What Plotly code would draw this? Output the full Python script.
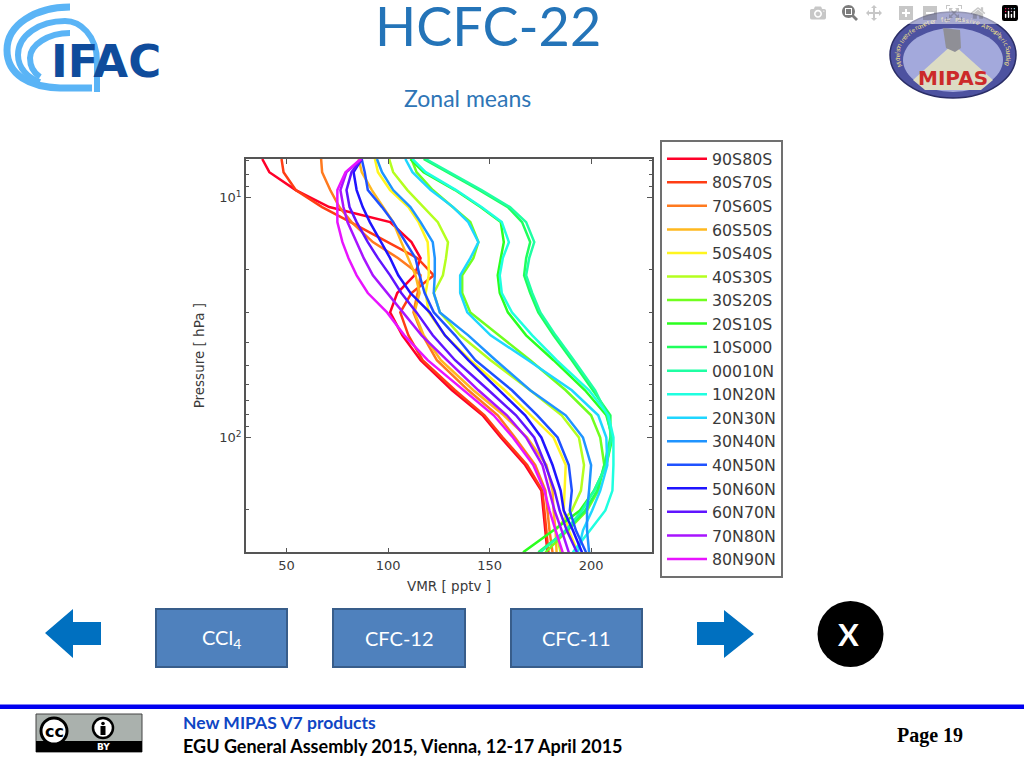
"""
HCFC-22 zonal means slide
"""
import math
import plotly.graph_objects as go

# pressure levels [hPa]
pressure = [6.92, 7.85, 9.32, 10.97, 12.67, 15.35, 17.9, 21.1, 25.0, 30.1,
            37.5, 47.6, 63.5, 80.7, 99.8, 130, 166, 201, 243, 300]

bands = ['90S80S', '80S70S', '70S60S', '60S50S', '50S40S', '40S30S', '30S20S', '20S10S', '10S000',
         '00010N', '10N20N', '20N30N', '30N40N', '40N50N', '50N60N', '60N70N', '70N80N', '80N90N']

band_colors = ['#ff0029', '#ff3d14', '#ff7a1f', '#ffb81f', '#fff51f', '#b4ff1f', '#70ff1f', '#2bff1f', '#1fff5c',
               '#1fffa3', '#1fffe0', '#1fd6ff', '#1f94ff', '#1f52ff', '#1f14ff', '#6014ff', '#a814ff', '#e814ff']

# VMR [pptv] per latitude band, same order as pressure
vmr_90s80s = [38, 41.5, 54.5, 71, 101, 111.5, 116, 113, 104.5, 101, 107, 116, 131.5, 146.5, 155.5, 167.5, 175.5, 176.5, 177.5, 178.5]
vmr_80s70s = [47.5, 48.5, 54.5, 67.5, 81.5, 99.5, 114.5, 122.5, 111.5, 106, 110, 117, 133, 147.5, 156.5, 168.5, 176, 177, 178, 179]
vmr_70s60s = [67, 67.5, 71.5, 76, 82, 92.5, 105, 116, 114.5, 112.5, 117, 124, 139.5, 154, 162.5, 172.5, 177.5, 178.5, 179.5, 181]
vmr_60s50s = [85.5, 87, 92, 97.5, 102.5, 106.5, 110, 113.5, 115.5, 113, 117.5, 126, 142, 157, 168.5, 178, 181, 181.5, 182.5, 183]
vmr_50s40s = [93.5, 95, 101, 110, 115, 119.5, 120, 120, 118.5, 120, 128, 140.5, 157.5, 170, 181.5, 187.5, 187, 186.5, 189, 193.5]
vmr_40s30s = [100.5, 102.5, 109.5, 117.5, 124.5, 129.5, 128.5, 127, 122.5, 125.5, 135.5, 150.5, 170, 185.5, 194, 196.5, 195, 190.5, 182.5, 185]
vmr_30s20s = [111.5, 114, 122, 132, 140.5, 144.5, 142, 136.5, 136.5, 140.5, 154.5, 170, 187.5, 200, 204.5, 206.5, 203.5, 198, 188.5, 177.5]
vmr_20s10s = [111, 117.5, 133, 145.5, 155.5, 157, 155.5, 154, 155, 159, 168, 181.5, 197, 207.5, 210.5, 207.5, 201.5, 194.5, 181.5, 166.5]
vmr_10s000 = [117.5, 129, 145, 159, 166, 170, 168, 167, 170, 174, 181.5, 190.5, 201, 209.5, 209.5, 206.5, 203, 197, 188, 174]
vmr_00010n = [118.5, 130, 146, 160, 168, 172, 169.5, 168, 171, 175, 182.5, 191.5, 202, 208, 210, 207.5, 201.5, 195.5, 187.5, 175]
vmr_10n20n = [112, 118.5, 133.5, 146, 156, 159.5, 156.5, 155, 156, 161, 171, 183, 199, 208.5, 211, 211, 210.5, 207, 199.5, 191]
vmr_20n30n = [108.5, 112, 121, 132, 139.5, 144.5, 140.5, 135.5, 135.5, 139, 150.5, 169, 190.5, 203.5, 207.5, 208, 204.5, 200.5, 196, 193.5]
vmr_30n40n = [94.5, 97, 102.5, 111, 116, 122, 123, 123, 122.5, 125.5, 139.5, 153, 170, 187.5, 196, 200, 199, 198, 198, 199]
vmr_40n50n = [87, 88.5, 90, 97, 102.5, 108.5, 113.5, 115.5, 118, 122.5, 133, 143, 161, 173.5, 183.5, 189, 190.5, 189.5, 192.5, 197.5]
vmr_50n60n = [87, 83, 84.5, 87.5, 91, 96.5, 101, 105, 111, 120.5, 128, 139.5, 154.5, 167.5, 175.5, 181, 185, 186.5, 191, 195.5]
vmr_60n70n = [87, 82, 79.5, 81, 84.5, 90, 95, 101, 106.5, 114, 122, 133, 149.5, 163, 172, 177.5, 182, 184.5, 188, 193]
vmr_70n80n = [87, 79.5, 76.5, 78, 80, 84.5, 88, 92.5, 99.5, 107.5, 116.5, 129, 144.5, 158.5, 168, 176, 179.5, 182, 185.5, 189]
vmr_80n90n = [86.5, 79, 75, 75, 75, 77.5, 80.5, 84.5, 90, 99.5, 108, 119.5, 137, 152, 161.5, 171.5, 177, 179.5, 182.5, 186]

all_vmr = [vmr_90s80s, vmr_80s70s, vmr_70s60s, vmr_60s50s, vmr_50s40s, vmr_40s30s, vmr_30s20s, vmr_20s10s, vmr_10s000,
           vmr_00010n, vmr_10n20n, vmr_20n30n, vmr_30n40n, vmr_40n50n, vmr_50n60n, vmr_60n70n, vmr_70n80n, vmr_80n90n]

x_ticks = [50, 100, 150, 200]
y_ticks = [10, 100]
y_tick_labels = ['10<sup>1</sup>', '10<sup>2</sup>']
y_minor = [7, 8, 9, 20, 30, 40, 50, 60, 70, 80, 90, 200, 300]

W, H = 1024, 768
SLIDE_FONT = 'Lato'
PLOT_FONT = 'DejaVu Sans'
TEXT_GREY = '#3a3a3a'


def fx(x):
    return x / W


def fy(y):
    return 1 - y / H


def path(points):
    """Turn pixel commands like ('M', 10, 20) into a paper-space svg path"""
    parts = []
    for cmd in points:
        coords = cmd[1:]
        pairs = []
        for i in range(0, len(coords), 2):
            pairs.append(f'{fx(coords[i]):.5f},{fy(coords[i + 1]):.5f}')
        parts.append(cmd[0] + ' '.join(pairs))
    return ' '.join(parts)


def rect(x0, y0, x1, y1, fill, line=None, width=0):
    return dict(type='rect', xref='paper', yref='paper', x0=fx(x0), x1=fx(x1), y0=fy(y0), y1=fy(y1),
                fillcolor=fill, line=dict(color=line or fill, width=width))


def ellipse(cx, cy, rx, ry, fill, line=None, width=0):
    return dict(type='circle', xref='paper', yref='paper', x0=fx(cx - rx), x1=fx(cx + rx),
                y0=fy(cy + ry), y1=fy(cy - ry), fillcolor=fill, line=dict(color=line or fill, width=width))


def poly(points, fill):
    cmds = [('M', *points[0])] + [('L', *p) for p in points[1:]] + [('Z',)]
    return dict(type='path', xref='paper', yref='paper', path=path(cmds), fillcolor=fill,
                line=dict(color=fill, width=0))


def stroke(cmds, color, width):
    return dict(type='path', xref='paper', yref='paper', path=path(cmds), line=dict(color=color, width=width))


def label(x, y, text, size, color, family=SLIDE_FONT, anchor='left', bold=False, angle=0):
    return dict(xref='paper', yref='paper', x=fx(x), y=fy(y), text=f'<b>{text}</b>' if bold else text,
                showarrow=False, xanchor=anchor, yanchor='middle', textangle=angle,
                font=dict(size=size, color=color, family=family))


fig = go.Figure()
for name, color, values in zip(bands, band_colors, all_vmr):
    fig.add_trace(go.Scatter(x=values, y=pressure, mode='lines', name=name, line=dict(color=color, width=2.5)))

axis_line = dict(showline=True, linecolor='#555555', linewidth=1.5, mirror='ticks', showgrid=False, zeroline=False,
                 ticks='inside', tickcolor='#555555', tickfont=dict(size=13, color=TEXT_GREY, family=PLOT_FONT))

fig.update_xaxes(range=[30, 230], domain=[fx(246), fx(652)], tickvals=x_ticks, ticklen=5,
                 title=dict(text='VMR [ pptv ]', font=dict(size=13.5, color=TEXT_GREY, family=PLOT_FONT), standoff=10),
                 **axis_line)
fig.update_yaxes(type='log', range=[math.log10(300), math.log10(6.92)], domain=[fy(552.3), fy(159)],
                 tickvals=y_ticks, ticktext=y_tick_labels, ticklen=5,
                 minor=dict(ticks='inside', ticklen=3, tickcolor='#555555', tickvals=y_minor, showgrid=False),
                 title=dict(text='Pressure [ hPa ]', font=dict(size=13.5, color=TEXT_GREY, family=PLOT_FONT), standoff=12),
                 **axis_line)

shapes = [
    # footer rule
    rect(0, 704.5, W, 709, '#0000f0'),
    # navigation buttons
    rect(156, 609, 287, 667, '#4f81bd', '#385d8a', 2),
    rect(333, 609, 465, 667, '#4f81bd', '#385d8a', 2),
    rect(511, 609, 642, 667, '#4f81bd', '#385d8a', 2),
    poly([(45, 633), (73, 609), (73, 622), (101, 622), (101, 645), (73, 645), (73, 658)], '#0070c0'),
    poly([(697, 622), (724, 622), (724, 610), (754, 634), (724, 658), (724, 645), (697, 645)], '#0070c0'),
    ellipse(850.5, 634, 33, 33, '#000000'),
    # IFAC logo arcs
    stroke([('M', 70, 7), ('C', 35, 7, 7, 25, 7, 50), ('C', 7, 75, 30, 87, 60, 88), ('L', 92, 88)], '#5ab4f6', 7),
    stroke([('M', 97, 92), ('L', 97, 62), ('C', 97, 35, 80, 21, 65, 21), ('C', 40, 21, 18, 35, 18, 55),
            ('C', 18, 68, 28, 78, 40, 82)], '#5ab4f6', 6),
    stroke([('M', 70, 33), ('C', 48, 33, 30, 45, 30, 58), ('C', 30, 68, 34, 73, 40, 77)], '#5ab4f6', 6),
    # MIPAS logo
    ellipse(953, 55, 63, 43, '#4d52a0', '#2a2d66', 1.5),
    ellipse(953, 60, 50, 32, '#a3a9dc'),
    poly([(953, 44), (913, 80), (925, 90), (981, 90), (993, 80)], '#dcdcc4'),
    poly([(943, 28), (960, 30), (961, 48), (955, 52), (946, 48)], '#8f8f96'),
    # CC BY badge
    rect(36, 714, 142, 752, '#aab1ad', '#444444', 1),
    rect(36, 741, 142, 752, '#000000'),
    ellipse(54, 731, 13, 13, '#ffffff', '#000000', 3),
    ellipse(103, 728, 10, 10, '#ffffff', '#000000', 2.5),
    ellipse(103, 723.5, 1.8, 1.8, '#000000'),
    rect(100.5, 726, 105.5, 735, '#000000'),
]

annotations = [
    label(487.5, 25, 'HCFC-22', 54, '#2474b8', anchor='center'),
    label(467, 98, 'Zonal means', 23, '#2e75b6', anchor='center'),
    label(221, 638, 'CCl<sub>4</sub>', 20, '#ffffff', anchor='center'),
    label(399, 638, 'CFC-12', 20, '#ffffff', anchor='center'),
    label(576.5, 638, 'CFC-11', 20, '#ffffff', anchor='center'),
    label(848, 634, 'X', 31, '#ffffff', anchor='center', bold=True),
    label(181, 722, 'New MIPAS V7 products', 17.5, '#0f46c4', bold=True),
    label(181, 746, 'EGU General Assembly 2015, Vienna, 12-17 April 2015', 18, '#000000', bold=True),
    label(930, 735, 'Page 19', 20, '#000000', family='Liberation Serif', anchor='center', bold=True),
    label(106, 62, 'IFAC', 45, '#0f4c9c', family=PLOT_FONT, anchor='center', bold=True),
    label(54, 731, 'cc', 16, '#000000', family=PLOT_FONT, anchor='center', bold=True),
    label(103, 747, 'BY', 9, '#ffffff', family=PLOT_FONT, anchor='center', bold=True),
    label(953, 78, 'MIPAS', 20, '#cc2a2a', family=PLOT_FONT, anchor='center', bold=True),
]

# instrument name running round the rim of the MIPAS logo
rim_text = 'Michelson Interferometer for Passive Atmospheric Sounding'
for i, ch in enumerate(rim_text):
    theta = math.radians(195 - 210 * i / (len(rim_text) - 1))
    cx = 953 + 56 * math.cos(theta)
    cy = 55 - 36 * math.sin(theta)
    tilt = math.degrees(math.atan2(36 * math.cos(theta), 56 * math.sin(theta)))
    annotations.append(label(cx, cy, ch, 6, '#e6dc8c', family=PLOT_FONT, anchor='center', angle=tilt))

fig.update_layout(
    width=W,
    height=H,
    margin=dict(l=0, r=0, t=0, b=0),
    paper_bgcolor='white',
    plot_bgcolor='white',
    showlegend=True,
    legend=dict(x=fx(660), y=fy(140), xanchor='left', yanchor='top', bgcolor='white', bordercolor='#707070',
                borderwidth=2, font=dict(size=15.8, color=TEXT_GREY, family=PLOT_FONT), itemwidth=40),
    shapes=shapes,
    annotations=annotations,
)

fig.write_html("out.html", post_script="document.body.style.margin='0';document.body.style.overflow='hidden';")
